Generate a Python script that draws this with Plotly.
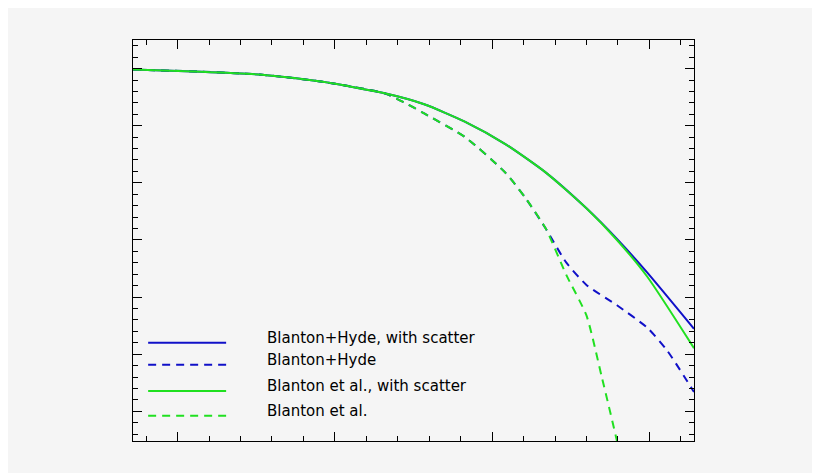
import plotly.graph_objs as go

# curves (arbitrary units: x major tick = 1, y major tick = 1)
x_solid = [-0.284, 0.148, 0.535, 0.923, 1.310, 1.568, 1.826, 2.084, 2.342, 2.600, 2.794, 2.987, 3.284]
y_hyde_scatter = [-0.018, -0.054, -0.107, -0.232, -0.429, -0.625, -0.929, -1.321, -1.821, -2.446, -2.982, -3.571, -4.554]
y_blanton_scatter = [-0.018, -0.054, -0.107, -0.232, -0.429, -0.625, -0.929, -1.321, -1.821, -2.446, -3.000, -3.643, -4.893]

x_hyde = [-0.284, 0.148, 0.535, 0.923, 1.310, 1.439, 1.568, 1.826, 2.084, 2.213, 2.342, 2.471, 2.600, 2.794, 2.987, 3.116, 3.284]
y_hyde = [-0.018, -0.054, -0.107, -0.232, -0.429, -0.589, -0.786, -1.196, -1.821, -2.268, -2.804, -3.393, -3.786, -4.143, -4.536, -4.946, -5.661]

x_blanton = [-0.284, 0.148, 0.535, 0.923, 1.310, 1.439, 1.568, 1.826, 2.084, 2.213, 2.342, 2.471, 2.600, 2.697, 2.794, 2.830]
y_blanton = [-0.018, -0.054, -0.107, -0.232, -0.429, -0.589, -0.786, -1.196, -1.821, -2.268, -2.804, -3.607, -4.321, -5.393, -6.518, -7.000]

labels = ["Blanton+Hyde, with scatter", "Blanton+Hyde",
          "Blanton et al., with scatter", "Blanton et al."]

BLUE = "#1010c8"
GREEN = "#20e020"
DASH = "8px,6px"

fig = go.Figure()
fig.add_trace(go.Scatter(x=x_hyde, y=y_hyde, mode="lines",
                         line=dict(color=BLUE, width=2, dash=DASH, shape="spline", smoothing=0.6)))
fig.add_trace(go.Scatter(x=x_blanton, y=y_blanton, mode="lines",
                         line=dict(color=GREEN, width=2, dash=DASH, shape="spline", smoothing=0.6)))
fig.add_trace(go.Scatter(x=x_solid, y=y_hyde_scatter, mode="lines",
                         line=dict(color=BLUE, width=2, shape="spline", smoothing=0.6)))
fig.add_trace(go.Scatter(x=x_solid, y=y_blanton_scatter, mode="lines",
                         line=dict(color=GREEN, width=2, shape="spline", smoothing=0.6)))

# hand-drawn legend inside the plot
styles = [(BLUE, "solid"), (BLUE, DASH), (GREEN, "solid"), (GREEN, DASH)]
rows = [0.245, 0.19, 0.125, 0.063]
for (col, dash), yy, lab in zip(styles, rows, labels):
    fig.add_shape(type="line", xref="paper", yref="paper", x0=0.027, x1=0.166,
                  y0=yy, y1=yy, line=dict(color=col, width=2, dash=dash))
    fig.add_annotation(xref="paper", yref="paper", x=0.235, y=yy + 0.012,
                       text=lab, showarrow=False, xanchor="left", yanchor="middle",
                       font=dict(family="DejaVu Sans", size=15, color="black"))

axis_common = dict(showgrid=False, zeroline=False, showticklabels=False,
                   showline=True, linecolor="black", linewidth=1, mirror="allticks",
                   ticks="inside", ticklen=9, tickcolor="black",
                   minor=dict(ticks="inside", ticklen=5, tickcolor="black", showgrid=False))
fig.update_xaxes(range=[-0.284, 3.284], tick0=0, dtick=1, **axis_common)
fig.update_xaxes(minor_dtick=0.2)
fig.update_yaxes(range=[-6.518, 0.5], tick0=0, dtick=1, **axis_common)
fig.update_yaxes(minor_dtick=0.2)

fig.update_layout(width=812, height=465, showlegend=False,
                  margin=dict(l=125, r=126, t=32, b=32),
                  paper_bgcolor="#f5f5f5", plot_bgcolor="#f5f5f5")

fig.write_html("out.html")
